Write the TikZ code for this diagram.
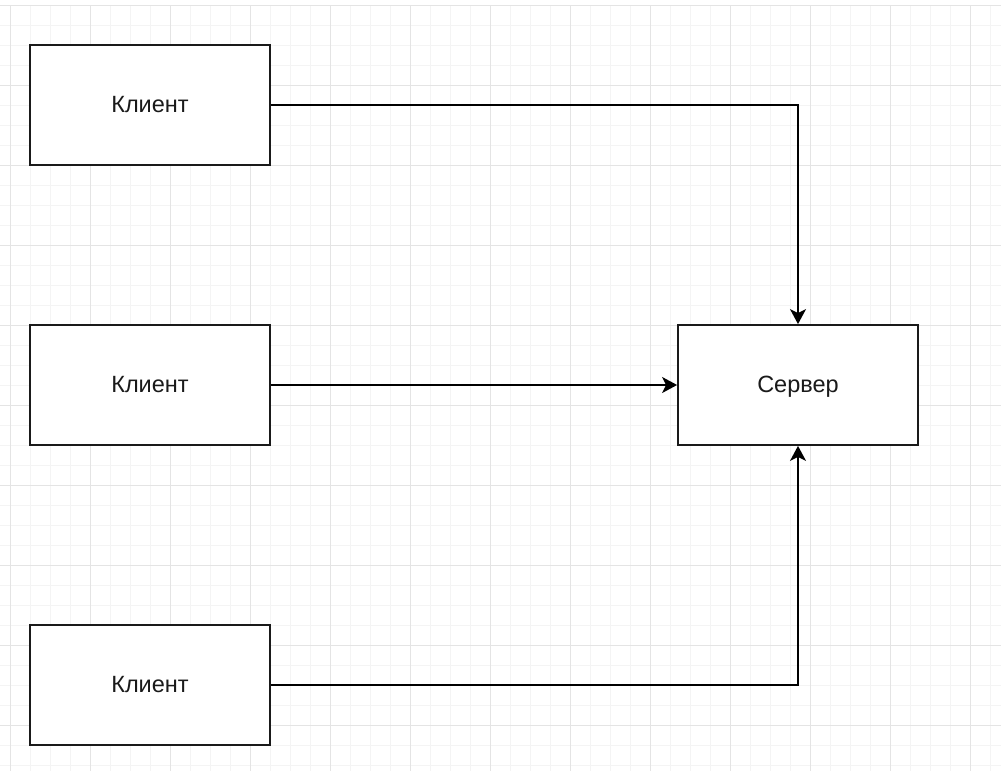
\documentclass[tikz,border=0pt]{standalone}
\usepackage{fontspec}
\setmainfont{Liberation Sans}
\usetikzlibrary{arrows.meta}
\definecolor{gridminor}{HTML}{F4F4F4}
\definecolor{gridmajor}{HTML}{E4E4E4}
\definecolor{ink}{HTML}{1A1A1A}
\begin{document}
\begin{tikzpicture}[x=1pt,y=-1pt,
  box/.style={draw=ink, line width=1.8pt, fill=white,
    minimum width=240pt, minimum height=120pt, inner sep=0pt,
    font=\fontsize{23.5}{28}\selectfont, text=ink,
    text height=15pt, text depth=0pt},
  link/.style={draw=black, line width=1.6pt,
    -{Stealth[length=15pt, width=16pt, inset=4pt]}}]
\useasboundingbox (0,0) rectangle (1001,771);
\fill[white] (0,0) rectangle (1001,771);
% background grid: fine lines every 20, strong lines every 80
\foreach \x in {10,30,...,990} \draw[gridminor, line width=1pt] (\x,5) -- (\x,771);
\foreach \y in {5,25,...,765} \draw[gridminor, line width=1pt] (0,\y) -- (1001,\y);
\foreach \x in {10,90,...,970} \draw[gridmajor, line width=1pt] (\x,5) -- (\x,771);
\foreach \y in {5,85,...,725} \draw[gridmajor, line width=1pt] (0,\y) -- (1001,\y);
% clients and server
\node[box] (c1) at (150,105) {Клиент};
\node[box] (c2) at (150,385) {Клиент};
\node[box] (c3) at (150,685) {Клиент};
\node[box] (srv) at (798,385) {Сервер};
% connections
\draw[link] (c1.east) -| (srv.north);
\draw[link] (c2.east) -- (srv.west);
\draw[link] (c3.east) -| (srv.south);
\end{tikzpicture}
\end{document}
